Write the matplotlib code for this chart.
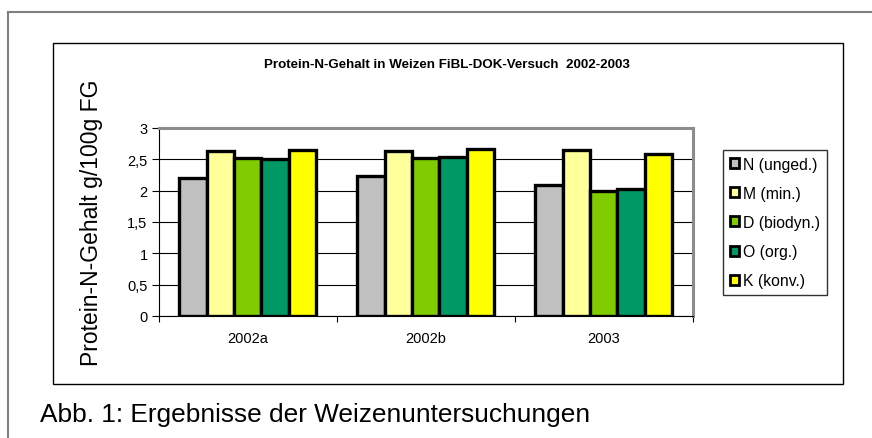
import matplotlib.pyplot as plt
import numpy as np
from matplotlib.patches import Rectangle, Patch
from matplotlib.lines import Line2D

plt.rcParams['font.family'] = ['Liberation Sans', 'DejaVu Sans']

categories = ['2002a', '2002b', '2003']
series = ['N (unged.)', 'M (min.)', 'D (biodyn.)', 'O (org.)', 'K (konv.)']
values = {
    'N (unged.)': [2.20, 2.24, 2.09],
    'M (min.)': [2.64, 2.64, 2.65],
    'D (biodyn.)': [2.52, 2.52, 1.99],
    'O (org.)': [2.50, 2.53, 2.03],
    'K (konv.)': [2.65, 2.66, 2.58],
}
colors = ['#c0c0c0', '#ffff99', '#80cc00', '#009966', '#ffff00']
yticks = [0, 0.5, 1, 1.5, 2, 2.5, 3]
ytick_labels = ['0', '0,5', '1', '1,5', '2', '2,5', '3']

W, H = 872, 439
fig = plt.figure(figsize=(W / 100, H / 100), dpi=100)

# outer frame (top + left only)
fig.add_artist(Line2D([8 / W, 1], [1 - 13 / H, 1 - 13 / H], color='#808080', lw=1.5))
fig.add_artist(Line2D([8 / W, 8 / W], [0, 1 - 13 / H], color='#808080', lw=1.5))

# chart box
fig.add_artist(Rectangle((53 / W, 1 - 385 / H), (842.5 - 53) / W, (385 - 44) / H,
                         transform=fig.transFigure, fill=False, ec='black', lw=1))

ax = fig.add_axes([158.7 / W, 1 - 317 / H, (692.7 - 158.7) / W, (317 - 129) / H])

x = np.arange(len(categories))
w = 1 / 6.5
for i, s in enumerate(series):
    ax.bar(x + (i - 2) * w, values[s], w, color=colors[i], edgecolor='black',
           linewidth=2.4, zorder=3, label=s)

ax.set_xlim(-0.5, 2.5)
ax.set_ylim(0, 3)
ax.set_yticks(yticks)
ax.set_yticklabels(ytick_labels, fontsize=10.5)
ax.tick_params(axis='y', length=5, width=0.8, pad=3)
ax.set_xticks(x)
ax.set_xticklabels(categories, fontsize=10.5)
ax.tick_params(axis='x', length=0, pad=11)
ax.set_xticks([-0.5, 0.5, 1.5, 2.5], minor=True)
ax.tick_params(axis='x', which='minor', length=4, width=0.8)

ax.grid(axis='y', color='black', linewidth=0.8)
ax.set_axisbelow(True)

for side in ['top', 'right']:
    ax.spines[side].set_color('#8c8c8c')
    ax.spines[side].set_linewidth(2.2)
ax.spines['left'].set_linewidth(0.8)
ax.spines['bottom'].set_linewidth(0.8)

ax.set_ylabel('Protein-N-Gehalt g/100g FG', fontsize=16.5)
ax.yaxis.set_label_coords(-0.104, 0.5)

fig.text(447 / W, 1 - 65 / H, 'Protein-N-Gehalt in Weizen FiBL-DOK-Versuch  2002-2003',
         ha='center', va='center', fontsize=9.6, fontweight='bold')

handles = [Patch(facecolor=c, edgecolor='black', linewidth=2) for c in colors]
leg = fig.legend(handles, series, loc='upper left',
                 bbox_to_anchor=(723 / W, 1 - 150.7 / H), fontsize=11.3,
                 frameon=True, fancybox=False, edgecolor='black',
                 handlelength=0.6, handleheight=0.6, handletextpad=0.25,
                 labelspacing=0.9, borderpad=0.45, borderaxespad=0)
leg.get_frame().set_linewidth(1)

fig.text(40 / W, 1 - 415 / H, 'Abb. 1: Ergebnisse der Weizenuntersuchungen',
         ha='left', va='center', fontsize=18.9)

fig.savefig('out.png', dpi=100)
